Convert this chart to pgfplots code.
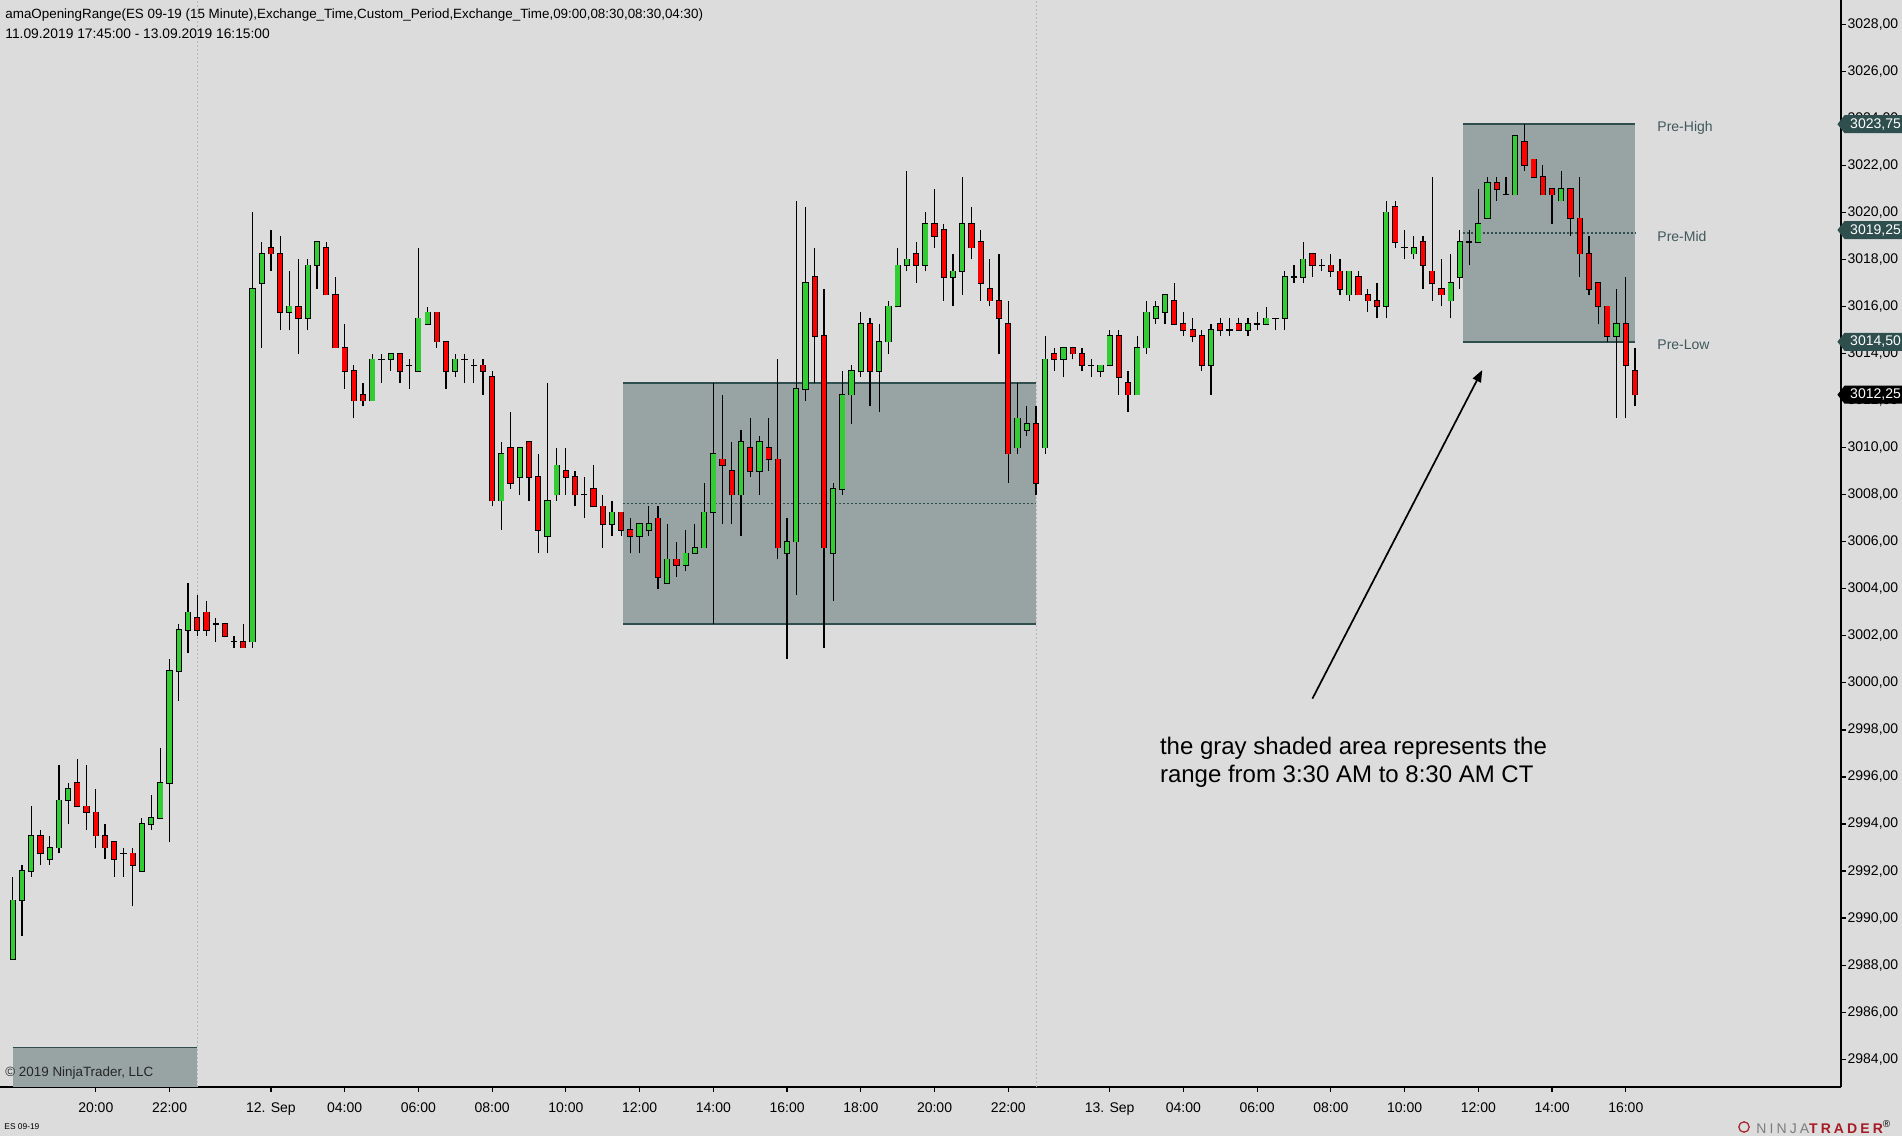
\documentclass[border=0pt]{standalone}
\usepackage{fontspec}
\setmainfont{Liberation Sans}
\newfontfamily\logofont[LetterSpace=22]{Liberation Sans}
\usepackage{pgfplots}
\usepackage{pgfplotstable}
\pgfplotsset{compat=1.18}
\usetikzlibrary{arrows.meta}
\definecolor{bg}{RGB}{220,220,220}
\definecolor{boxfill}{RGB}{151,164,163}
\definecolor{slate}{RGB}{47,79,79}
\definecolor{cgreen}{RGB}{50,205,50}
\definecolor{cred}{RGB}{255,0,0}
\definecolor{sepgray}{RGB}{185,185,185}
\definecolor{prelab}{RGB}{64,88,90}
\definecolor{logored}{RGB}{165,28,36}
\definecolor{logogray}{RGB}{125,125,125}

\pgfplotstableread{
i O H L C
0 2988.25 2991.75 2988.25 2990.75
1 2990.75 2992.25 2989.25 2992
2 2992 2994.75 2991.75 2993.5
3 2993.5 2993.75 2992.25 2992.75
4 2992.5 2993.5 2992.25 2993
5 2993 2996.5 2992.75 2995
6 2995 2995.75 2994 2995.5
7 2995.75 2996.75 2994.75 2994.75
8 2994.75 2996.5 2993.75 2994.5
9 2994.5 2995.5 2993 2993.5
10 2993.5 2994 2992.5 2993
11 2993.25 2993.25 2991.75 2992.5
12 2992.75 2993 2991.75 2992.75
13 2992.75 2993 2990.5 2992.25
14 2992 2994.25 2992 2994
15 2994 2995.25 2993.75 2994.25
16 2994.25 2997.25 2994.25 2995.75
17 2995.75 3001 2993.25 3000.5
18 3000.5 3002.5 2999.25 3002.25
19 3002.25 3004.25 3001.25 3003
20 3002.75 3003.75 3002 3002.25
21 3003 3003.5 3002 3002.25
22 3002.5 3002.75 3001.75 3002.5
23 3002.5 3002.5 3002 3002
24 3001.75 3002 3001.5 3001.75
25 3001.75 3002.5 3001.5 3001.5
26 3001.75 3020 3001.5 3016.75
27 3017 3018.75 3014.25 3018.25
28 3018.5 3019.25 3017.5 3018.25
29 3018.25 3019 3015 3015.75
30 3015.75 3017.5 3015 3016
31 3016 3018 3014 3015.5
32 3015.5 3018 3015 3017.75
33 3017.75 3018.75 3016.75 3018.75
34 3018.5 3018.75 3016.5 3016.5
35 3016.5 3017.25 3014.25 3014.25
36 3014.25 3015.25 3012.5 3013.25
37 3013.25 3013.5 3011.25 3012
38 3012.25 3012.75 3011.75 3012
39 3012 3014 3012 3013.75
40 3013.75 3014 3012.75 3013.75
41 3013.75 3014 3013.25 3014
42 3014 3014 3012.75 3013.25
43 3013.5 3013.75 3012.5 3013.5
44 3013.25 3018.5 3013.25 3015.5
45 3015.25 3016 3015.25 3015.75
46 3015.75 3015.75 3014.25 3014.5
47 3014.5 3014.5 3012.5 3013.25
48 3013.25 3014 3013 3013.75
49 3013.75 3014 3012.75 3013.75
50 3013.5 3013.75 3012.75 3013.5
51 3013.5 3013.75 3012.25 3013.25
52 3013 3013.25 3007.5 3007.75
53 3007.75 3010.25 3006.5 3009.75
54 3010 3011.5 3008.25 3008.5
55 3008.75 3010 3008 3010
56 3010.25 3010.25 3007.75 3008.75
57 3008.75 3009.75 3005.5 3006.5
58 3006.25 3012.75 3005.5 3007.75
59 3008 3010 3007.75 3009.25
60 3009 3010 3008 3008.75
61 3008.75 3009 3007.5 3008
62 3008 3008.75 3007 3008
63 3008.25 3009.25 3007.5 3007.5
64 3007.5 3008 3005.75 3006.75
65 3006.75 3007.75 3006.25 3007.25
66 3007.25 3007.25 3006.25 3006.5
67 3006.5 3007 3005.5 3006.25
68 3006.25 3006.75 3005.5 3006.75
69 3006.5 3007.5 3006.25 3006.75
70 3007 3007.5 3004 3004.5
71 3004.25 3006.75 3004.25 3005.25
72 3005.25 3006 3004.5 3005
73 3005 3006.5 3004.75 3005.5
74 3005.5 3006.75 3005.5 3005.75
75 3005.75 3008.5 3005.75 3007.25
76 3007.25 3012.75 3002.5 3009.75
77 3009.5 3012.25 3006.75 3009.25
78 3009 3010.25 3006.75 3008
79 3008 3010.75 3006.25 3010.25
80 3010 3011.25 3008.75 3009
81 3009 3010.5 3008 3010.25
82 3010 3011.25 3009 3009.5
83 3009.5 3013.75 3005.25 3005.75
84 3005.5 3007 3001 3006
85 3006 3020.5 3003.75 3012.5
86 3012.5 3020.25 3012 3017
87 3017.25 3018.5 3012.75 3014.75
88 3014.75 3016.75 3001.5 3005.75
89 3005.5 3008.5 3003.5 3008.25
90 3008.25 3013.25 3008 3012.25
91 3012.25 3013.5 3011 3013.25
92 3013.25 3015.75 3013 3015.25
93 3015.25 3015.5 3011.75 3013.25
94 3013.25 3015.25 3011.5 3014.5
95 3014.5 3016.25 3014 3016
96 3016 3018.5 3016 3017.75
97 3017.75 3021.75 3017.5 3018
98 3018.25 3018.75 3017 3017.75
99 3017.75 3020 3017.5 3019.5
100 3019.5 3021 3018.5 3019
101 3019.25 3019.5 3016.25 3017.25
102 3017.25 3018.25 3016 3017.5
103 3017.5 3021.5 3016.5 3019.5
104 3019.5 3020.25 3018 3018.5
105 3018.75 3019.25 3016.25 3017
106 3016.75 3018 3016 3016.25
107 3016.25 3018.25 3014 3015.5
108 3015.25 3016.25 3008.5 3009.75
109 3010 3012.75 3009.75 3011.25
110 3010.75 3011.75 3010.5 3011
111 3011 3011.75 3008 3008.5
112 3010 3014.75 3009.75 3013.75
113 3014 3014.25 3013.25 3013.75
114 3013.75 3014.25 3013 3014.25
115 3014.25 3014.25 3013.75 3014
116 3014 3014.25 3013.25 3013.5
117 3013.5 3013.75 3013 3013.5
118 3013.25 3013.5 3013 3013.5
119 3013.5 3015 3013.5 3014.75
120 3014.75 3015 3012.25 3013
121 3012.75 3013.25 3011.5 3012.25
122 3012.25 3014.75 3012.25 3014.25
123 3014.25 3016.25 3014 3015.75
124 3015.5 3016.25 3015.25 3016
125 3015.75 3016.5 3015.25 3016.5
126 3016.25 3017 3015.25 3015.25
127 3015.25 3015.75 3014.75 3015
128 3015 3015.5 3014.5 3014.75
129 3014.75 3015 3013.25 3013.5
130 3013.5 3015.25 3012.25 3015
131 3015.25 3015.5 3014.75 3015
132 3015 3015.5 3014.75 3015
133 3015.25 3015.5 3015 3015
134 3015 3015.5 3014.75 3015.25
135 3015.25 3015.75 3015 3015.25
136 3015.25 3016 3015.25 3015.5
137 3015.5 3015.5 3015 3015.5
138 3015.5 3017.5 3015 3017.25
139 3017.25 3017.75 3017 3017.25
140 3017.25 3018.75 3017 3018
141 3018.25 3018.25 3017.25 3017.75
142 3017.75 3018 3017.5 3017.75
143 3017.75 3018.25 3017.25 3017.5
144 3017.5 3018 3016.5 3016.75
145 3016.5 3017.5 3016.25 3017.5
146 3017.25 3017.5 3016.5 3016.5
147 3016.5 3016.75 3015.75 3016.25
148 3016.25 3017 3015.5 3016
149 3016 3020.5 3015.5 3020
150 3020.25 3020.5 3018.5 3018.75
151 3018.5 3019.25 3018 3018.5
152 3018.25 3019 3018 3018.5
153 3018.75 3019 3016.75 3017.75
154 3017.5 3021.5 3016.25 3017
155 3016.75 3018 3016 3016.5
156 3016.25 3018.25 3015.5 3017
157 3017.25 3019.25 3016.75 3018.75
158 3018.75 3019.25 3017.75 3018.75
159 3018.75 3021 3018.75 3019.5
160 3019.75 3021.5 3019.75 3021.25
161 3021.25 3021.5 3020.5 3021
162 3020.75 3021.5 3020.75 3020.75
163 3020.75 3023.25 3020.75 3023.25
164 3023 3023.75 3021.75 3022
165 3022.25 3022.25 3021.5 3021.5
166 3021.5 3022 3020.75 3020.75
167 3021 3021 3019.5 3020.75
168 3020.5 3021.75 3020.5 3021
169 3021 3021 3019 3019.75
170 3019.75 3021.5 3017.25 3018.25
171 3018.25 3019 3016.5 3016.75
172 3017 3017 3015.25 3016
173 3016 3016 3014.5 3014.75
174 3014.75 3016.75 3011.25 3015.25
175 3015.25 3017.25 3011.25 3013.5
176 3013.25 3014.25 3011.75 3012.25
}\candles

\newcommand{\flag}[3]{%
  \fill[#3] (#1) -- ++(3.55pt,4.5pt) -- ++(34pt,0) -- ++(0,-9pt) -- ++(-34pt,0) -- cycle;
  \node[anchor=west, inner sep=0pt, text=white, font=\fontsize{7}{8}\selectfont] at ([xshift=6.2pt]#1) {#2};}

\begin{document}
\begin{tikzpicture}
\fill[bg] (0,-24.5pt) rectangle (951pt,543.5pt);
\begin{axis}[
  at={(0,0)}, anchor=south west,
  scale only axis, width=920.5pt, height=543.5pt,
  xmin=-1.394, xmax=198.35, ymin=2982.82, ymax=3029.03,
  axis x line*=bottom, axis y line*=right,
  axis line style={black, line width=0.75pt, -},
  xtick={9,17,28,36,44,52,60,68,76,84,92,100,108,119,127,135,143,151,159,167,175},
  xticklabels={20:00,22:00,12. Sep,04:00,06:00,08:00,10:00,12:00,14:00,16:00,18:00,20:00,22:00,13. Sep,04:00,06:00,08:00,10:00,12:00,14:00,16:00},
  ytick={2984,2986,...,3028},
  tick align=outside, major tick length=2.5pt,
  tick style={black, line width=0.6pt},
  ticklabel style={font=\fontsize{7}{8}\selectfont, text=black},
  xticklabel style={yshift=-1.8pt},
  /pgf/number format/assume math mode=true,
  yticklabel style={inner sep=0pt, xshift=0.6pt, /pgf/number format/.cd, fixed, fixed zerofill, precision=2, use comma, 1000 sep={}},
  clip=false,
]
% separators
\addplot[sepgray, line width=0.5pt, dash pattern=on 1pt off 1pt, forget plot] coordinates {(20,2982.82) (20,3029.03)};
\addplot[sepgray, line width=0.5pt, dash pattern=on 1pt off 1pt, forget plot] coordinates {(111.05,2982.82) (111.05,3029.03)};
% range boxes
\addplot[fill=boxfill, draw=none, forget plot] coordinates {(66.25,3002.5) (111.05,3002.5) (111.05,3012.75) (66.25,3012.75)} -- cycle;
\addplot[slate, line width=0.85pt, forget plot] coordinates {(66.25,3012.75) (111.05,3012.75)};
\addplot[slate, line width=0.85pt, forget plot] coordinates {(66.25,3002.5) (111.05,3002.5)};
\addplot[slate, line width=0.8pt, dash pattern=on 1pt off 1pt, forget plot] coordinates {(66.25,3007.625) (111.05,3007.625)};
\addplot[fill=boxfill, draw=none, forget plot] coordinates {(157.33,3014.5) (176.0,3014.5) (176.0,3023.75) (157.33,3023.75)} -- cycle;
\addplot[slate, line width=0.85pt, forget plot] coordinates {(157.33,3023.75) (176.0,3023.75)};
\addplot[slate, line width=0.85pt, forget plot] coordinates {(157.33,3014.5) (176.0,3014.5)};
\addplot[slate, line width=0.8pt, dash pattern=on 1pt off 1pt, forget plot] coordinates {(157.33,3019.125) (176.0,3019.125)};
\addplot[fill=boxfill, draw=none, forget plot] coordinates {(-0.02,2982.82) (20,2982.82) (20,2984.5) (-0.02,2984.5)} -- cycle;
\addplot[slate, line width=0.85pt, forget plot] coordinates {(-0.02,2984.5) (20,2984.5)};
% wicks
\addplot[draw=none, mark=none, forget plot, error bars/.cd, y dir=plus, y explicit, error mark=none,
  error bar style={draw=black, line width=0.6pt}]
  table[x=i, y=L, y error plus expr={\thisrow{H}-\thisrow{L}}] {\candles};
% body outlines
\addplot[draw=none, mark=none, forget plot, error bars/.cd, y dir=plus, y explicit, error mark=none,
  error bar style={draw=black, line width=3.1pt}]
  table[x=i, y expr={min(\thisrow{O},\thisrow{C})-0.03}, y error plus expr={abs(\thisrow{C}-\thisrow{O})+0.06}] {\candles};
% green bodies
\addplot[draw=none, mark=none, forget plot, error bars/.cd, y dir=plus, y explicit, error mark=none,
  error bar style={draw=cgreen, line width=2.2pt}]
  table[x=i, y expr={\thisrow{C}>\thisrow{O} ? \thisrow{O} : nan}, y error plus expr={\thisrow{C}-\thisrow{O}}] {\candles};
% red bodies
\addplot[draw=none, mark=none, forget plot, error bars/.cd, y dir=plus, y explicit, error mark=none,
  error bar style={draw=cred, line width=2.2pt}]
  table[x=i, y expr={\thisrow{C}<\thisrow{O} ? \thisrow{C} : nan}, y error plus expr={\thisrow{O}-\thisrow{C}}] {\candles};
% labels of the current range
\node[anchor=west, inner sep=0pt, text=prelab, font=\fontsize{7}{8}\selectfont] at (axis cs:178.39,3023.6) {Pre-High};
\node[anchor=west, inner sep=0pt, text=prelab, font=\fontsize{7}{8}\selectfont] at (axis cs:178.39,3018.975) {Pre-Mid};
\node[anchor=west, inner sep=0pt, text=prelab, font=\fontsize{7}{8}\selectfont] at (axis cs:178.39,3014.38) {Pre-Low};
% header
\node[anchor=west, inner sep=0pt, font=\fontsize{6.7}{8}\selectfont] at (axis cs:-0.852,3028.37) {amaOpeningRange(ES 09-19 (15 Minute),Exchange\_Time,Custom\_Period,Exchange\_Time,09:00,08:30,08:30,04:30)};
\node[anchor=west, inner sep=0pt, font=\fontsize{6.9}{8}\selectfont] at (axis cs:-0.852,3027.58) {11.09.2019 17:45:00 - 13.09.2019 16:15:00};
% copyright
\node[anchor=west, inner sep=0pt, font=\fontsize{6.7}{8}\selectfont, text=black!85] at (axis cs:-0.852,2983.4) {© 2019 NinjaTrader, LLC};
% annotation
\draw[-{Triangle[length=6pt,width=4.5pt]}, line width=0.85pt, black] (axis cs:141.0,2999.33) -- (axis cs:159.43,3013.3);
\node[anchor=west, inner sep=0pt, font=\fontsize{12}{14}\selectfont] at (axis cs:124.42,2997.215) {the gray shaded area represents the};
\node[anchor=west, inner sep=0pt, font=\fontsize{12}{14}\selectfont] at (axis cs:124.42,2996.02) {range from 3:30 AM to 8:30 AM CT};
% flag anchors
\coordinate (F1) at (axis cs:197.96,3023.75);
\coordinate (F2) at (axis cs:197.96,3019.25);
\coordinate (F3) at (axis cs:197.96,3014.5);
\coordinate (F4) at (axis cs:197.96,3012.25);
\end{axis}
\flag{F1}{3023,75}{slate}
\flag{F2}{3019,25}{slate}
\flag{F3}{3014,50}{slate}
\flag{F4}{3012,25}{black}
\node[anchor=west, inner sep=0pt, font=\fontsize{4.2}{5}\selectfont] at (2pt,-20pt) {ES 09-19};
\draw[logored, line width=0.6pt] (872pt,-20pt) circle (2.6pt);
\node[anchor=west, inner sep=0pt, font=\logofont\fontsize{7}{8}\selectfont] at (878pt,-20pt) {\textcolor{logogray}{NINJA}\textcolor{logored}{\bfseries TRADER}\textsuperscript{\tiny®}};
\pgfresetboundingbox
\path[use as bounding box] (0,-24.5pt) rectangle (951pt,543.5pt);
\end{tikzpicture}
\end{document}
